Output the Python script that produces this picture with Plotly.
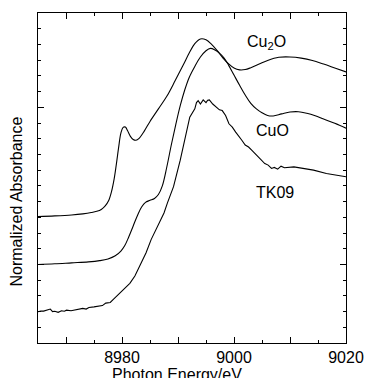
import plotly.graph_objects as go

# ---- data ----
cu2o_e = [8965, 8968, 8971, 8973, 8974.5, 8975.5, 8976.3, 8977, 8977.6, 8978.1, 8978.6, 8979.0,
          8979.4, 8979.8, 8980.2, 8980.6, 8981.0, 8981.5, 8982.0, 8982.5, 8983.0, 8984.0,
          8985.0, 8986.5, 8988.0, 8989.5, 8991.0, 8992.0, 8993.0, 8994.0, 8995.0, 8996.0,
          8997.0, 8998.0, 8999.0, 9000.0, 9001.0, 9002.0, 9003.0, 9004.5, 9006.0, 9008.0,
          9010.0, 9012.0, 9014.0, 9016.0, 9018.0, 9020.0]
cu2o_y = [0.305, 0.309, 0.315, 0.322, 0.330, 0.338, 0.350, 0.372, 0.405, 0.460, 0.545, 0.640,
          0.745, 0.835, 0.872, 0.874, 0.850, 0.815, 0.795, 0.790, 0.800, 0.850,
          0.910, 0.990, 1.070, 1.170, 1.274, 1.345, 1.405, 1.435, 1.430, 1.400,
          1.360, 1.315, 1.278, 1.250, 1.238, 1.240, 1.252, 1.275, 1.298, 1.318,
          1.320, 1.313, 1.298, 1.275, 1.250, 1.225]

cuo_e = [8965, 8968, 8971, 8974, 8976, 8977.5, 8978.8, 8979.8, 8980.5, 8981.2, 8982.0, 8982.8,
         8983.5, 8984.2, 8985.0, 8985.8, 8986.5, 8987.2, 8988.0, 8988.8, 8989.6, 8990.4,
         8991.2, 8992.0, 8993.0, 8994.0, 8995.0, 8995.8, 8996.6, 8997.4, 8998.2, 8999.0,
         9000.0, 9001.0, 9002.0, 9003.0, 9004.0, 9005.0, 9006.0, 9007.0, 9008.5, 9010.0,
         9011.5, 9013.0, 9014.5, 9016.0, 9018.0, 9020.0]
cuo_y = [0.0, 0.004, 0.010, 0.016, 0.024, 0.035, 0.055, 0.085, 0.120, 0.175, 0.245, 0.315,
         0.365, 0.395, 0.408, 0.420, 0.445, 0.500, 0.620, 0.760, 0.890, 1.010,
         1.110, 1.190, 1.260, 1.320, 1.360, 1.375, 1.365, 1.345, 1.315, 1.270,
         1.205, 1.140, 1.078, 1.025, 0.990, 0.965, 0.948, 0.945, 0.958, 0.970,
         0.972, 0.962, 0.946, 0.925, 0.898, 0.867]

tk_e = [8965, 8965.5, 8966.0, 8966.6, 8967.2, 8967.6, 8968.0, 8968.6, 8969.2, 8969.7, 8970.1,
        8970.9, 8971.8, 8972.4, 8973.0, 8973.6, 8974.1, 8975.0, 8975.9, 8976.5, 8977.1, 8977.9,
        8978.5, 8979.4, 8980.5, 8981.4, 8982.3, 8983.4, 8984.3, 8985.2, 8986.3, 8987.5,
        8988.1, 8989.2, 8990.4, 8991.6, 8992.1, 8993.0, 8993.3, 8993.6, 8994.0, 8994.5,
        8995.0, 8995.3, 8995.6, 8996.2, 8996.8, 8997.4, 8997.9, 8998.5, 8999.1, 8999.7,
        9000.3, 9000.8, 9001.4, 9002.0, 9002.6, 9003.2, 9003.8, 9004.3, 9004.9, 9005.5,
        9006.1, 9006.7, 9007.2, 9007.8, 9008.4, 9009.0, 9010.7, 9012.5, 9014.2, 9016.5, 9020]
tk_y = [-0.301, -0.296, -0.297, -0.290, -0.284, -0.300, -0.298, -0.305, -0.295, -0.298, -0.291,
        -0.295, -0.289, -0.284, -0.280, -0.284, -0.274, -0.270, -0.263, -0.262, -0.246, -0.242,
        -0.221, -0.190, -0.154, -0.120, -0.074, 0.011, 0.074, 0.158, 0.242, 0.327,
        0.390, 0.495, 0.663, 0.853, 0.937, 0.990, 1.030, 1.042, 1.021, 1.047,
        1.030, 1.045, 1.047, 1.021, 1.000, 0.984, 0.979, 0.948, 0.895, 0.874,
        0.842, 0.821, 0.790, 0.760, 0.747, 0.726, 0.705, 0.684, 0.663, 0.642,
        0.632, 0.611, 0.617, 0.606, 0.625, 0.615, 0.621, 0.612, 0.600, 0.579, 0.558]

x_tickvals = [8970, 8980, 8990, 9000, 9010, 9020]
x_ticktext = ["", "8980", "", "9000", "", "9020"]
curve_labels = ["Cu<sub>2</sub>O", "CuO", "TK09"]
label_e = [9005.8, 9006.8, 9007.3]
label_y = [1.415, 0.851, 0.456]

FONT = "Liberation Sans, Arial"

fig = go.Figure()
fig.add_trace(go.Scatter(x=cu2o_e, y=cu2o_y, mode="lines",
                         line=dict(color="black", width=1.1, shape="spline", smoothing=1)))
fig.add_trace(go.Scatter(x=cuo_e, y=cuo_y, mode="lines",
                         line=dict(color="black", width=1.1, shape="spline", smoothing=1)))
fig.add_trace(go.Scatter(x=tk_e, y=tk_y, mode="lines",
                         line=dict(color="black", width=1.1)))

for t, xe, ye in zip(curve_labels, label_e, label_y):
    fig.add_annotation(x=xe, y=ye, xref="x", yref="y", text=t, showarrow=False,
                       font=dict(family=FONT, size=16, color="black"),
                       xanchor="center", yanchor="middle")

fig.add_annotation(x=0.452, y=-0.064, xref="paper", yref="paper", text="Photon Energy/eV",
                   showarrow=False, xanchor="center", yanchor="top",
                   font=dict(family=FONT, size=16, color="black"))
fig.add_annotation(x=-0.07, y=0.43, xref="paper", yref="paper", text="Normalized Absorbance",
                   showarrow=False, textangle=-90, xanchor="center", yanchor="middle",
                   font=dict(family=FONT, size=16, color="black"))

axis_common = dict(showline=True, linecolor="black", linewidth=1, mirror="ticks",
                   ticks="inside", ticklen=6, tickcolor="black", tickwidth=1,
                   showgrid=False, zeroline=False)
fig.update_xaxes(range=[8965, 9020], tickvals=x_tickvals, ticktext=x_ticktext,
                 tickfont=dict(family=FONT, size=16, color="black"),
                 minor=dict(dtick=5, ticklen=3, ticks="inside", tickcolor="black", showgrid=False),
                 **axis_common)
fig.update_yaxes(range=[-0.5, 1.6], tickvals=[0, 1], showticklabels=False,
                 minor=dict(dtick=0.1, ticklen=3, ticks="inside", tickcolor="black", showgrid=False),
                 **axis_common)

fig.update_layout(width=376, height=378, autosize=False, showlegend=False,
                  margin=dict(l=38, r=23, t=12, b=35, pad=0),
                  plot_bgcolor="white", paper_bgcolor="white")

fig.write_html("out.html")
